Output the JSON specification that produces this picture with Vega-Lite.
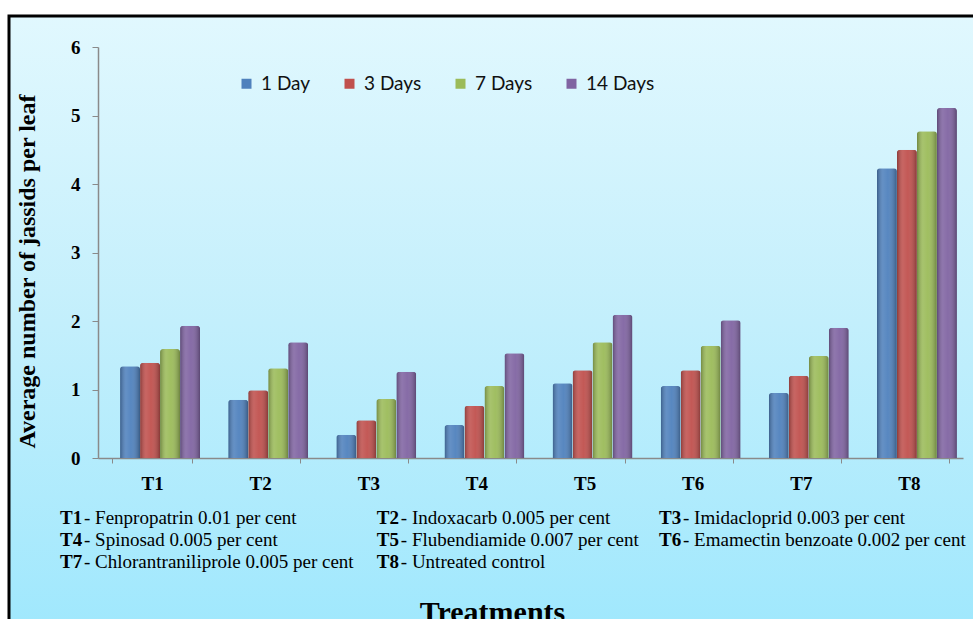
{
  "$schema": "https://vega.github.io/schema/vega-lite/v6.json",
  "autosize": {"type": "none"},
  "padding": {"left": 9, "top": 16, "right": 0, "bottom": 0},
  "width": 975,
  "height": 612,
  "background": "white",
  "config": {
    "view": {
      "stroke": "#000000",
      "strokeWidth": 3,
      "fill": {"gradient": "linear", "x1": 0, "y1": 0, "x2": 0, "y2": 1,
        "stops": [{"offset": 0, "color": "#e1f8fe"}, {"offset": 0.5, "color": "#c3effc"}, {"offset": 1, "color": "#a0e8fd"}]}
    }
  },
  "datasets": {
    "bars": [
      {"Treatment": "T1", "Period": "1 Day", "Value": 1.34},
      {"Treatment": "T1", "Period": "3 Days", "Value": 1.39},
      {"Treatment": "T1", "Period": "7 Days", "Value": 1.59},
      {"Treatment": "T1", "Period": "14 Days", "Value": 1.93},
      {"Treatment": "T2", "Period": "1 Day", "Value": 0.85},
      {"Treatment": "T2", "Period": "3 Days", "Value": 0.99},
      {"Treatment": "T2", "Period": "7 Days", "Value": 1.31},
      {"Treatment": "T2", "Period": "14 Days", "Value": 1.69},
      {"Treatment": "T3", "Period": "1 Day", "Value": 0.34},
      {"Treatment": "T3", "Period": "3 Days", "Value": 0.55},
      {"Treatment": "T3", "Period": "7 Days", "Value": 0.86},
      {"Treatment": "T3", "Period": "14 Days", "Value": 1.26},
      {"Treatment": "T4", "Period": "1 Day", "Value": 0.48},
      {"Treatment": "T4", "Period": "3 Days", "Value": 0.76},
      {"Treatment": "T4", "Period": "7 Days", "Value": 1.05},
      {"Treatment": "T4", "Period": "14 Days", "Value": 1.53},
      {"Treatment": "T5", "Period": "1 Day", "Value": 1.09},
      {"Treatment": "T5", "Period": "3 Days", "Value": 1.28},
      {"Treatment": "T5", "Period": "7 Days", "Value": 1.69},
      {"Treatment": "T5", "Period": "14 Days", "Value": 2.09},
      {"Treatment": "T6", "Period": "1 Day", "Value": 1.05},
      {"Treatment": "T6", "Period": "3 Days", "Value": 1.28},
      {"Treatment": "T6", "Period": "7 Days", "Value": 1.64},
      {"Treatment": "T6", "Period": "14 Days", "Value": 2.01},
      {"Treatment": "T7", "Period": "1 Day", "Value": 0.95},
      {"Treatment": "T7", "Period": "3 Days", "Value": 1.20},
      {"Treatment": "T7", "Period": "7 Days", "Value": 1.49},
      {"Treatment": "T7", "Period": "14 Days", "Value": 1.90},
      {"Treatment": "T8", "Period": "1 Day", "Value": 4.23},
      {"Treatment": "T8", "Period": "3 Days", "Value": 4.50},
      {"Treatment": "T8", "Period": "7 Days", "Value": 4.77},
      {"Treatment": "T8", "Period": "14 Days", "Value": 5.11}
    ],
    "notes": [
      {"code": "T1", "desc": "- Fenpropatrin 0.01 per cent", "line": 1, "col": 1},
      {"code": "T2", "desc": "- Indoxacarb 0.005 per cent", "line": 1, "col": 2},
      {"code": "T3", "desc": "- Imidacloprid 0.003 per cent", "line": 1, "col": 3},
      {"code": "T4", "desc": "- Spinosad 0.005 per cent", "line": 2, "col": 1},
      {"code": "T5", "desc": "- Flubendiamide 0.007 per cent", "line": 2, "col": 2},
      {"code": "T6", "desc": "- Emamectin benzoate 0.002 per cent", "line": 2, "col": 3},
      {"code": "T7", "desc": "- Chlorantraniliprole 0.005 per cent", "line": 3, "col": 1},
      {"code": "T8", "desc": "- Untreated control", "line": 3, "col": 2}
    ]
  },
  "layer": [
    {
      "data": {"name": "bars"},
      "encoding": {
        "x": {
          "field": "Treatment", "type": "nominal", "sort": null,
          "scale": {"range": [89, 954], "paddingInner": 0.26, "paddingOuter": 0.13},
          "axis": {
            "orient": "bottom", "offset": -170, "labelAngle": 0,
            "domainColor": "#8a8a8a", "domainWidth": 1.5, "tickColor": "#8a8a8a", "tickSize": 5, "tickBand": "extent",
            "labelFont": "Liberation Serif", "labelFontWeight": "bold", "labelFontSize": 19, "labelColor": "#000000", "labelPadding": 11,
            "title": "Treatments", "titleFont": "Liberation Serif", "titleFontWeight": "bold", "titleFontSize": 30, "titleColor": "#000000",
            "titleX": 483, "titleY": 163, "titleBaseline": "alphabetic", "titleAlign": "center"
          }
        },
        "xOffset": {"field": "Period", "type": "nominal", "sort": ["1 Day", "3 Days", "7 Days", "14 Days"], "scale": {"range": [8, 88], "paddingInner": 0, "paddingOuter": 0}},
        "y": {
          "field": "Value", "type": "quantitative",
          "scale": {"domain": [0, 6], "range": [442, 31], "nice": false, "zero": true},
          "axis": {
            "orient": "left", "offset": -89, "values": [0, 1, 2, 3, 4, 5, 6], "grid": false,
            "domainColor": "#8a8a8a", "domainWidth": 1.5, "tickColor": "#8a8a8a", "tickSize": 6,
            "labelFont": "Liberation Serif", "labelFontWeight": "bold", "labelFontSize": 19, "labelColor": "#000000", "labelPadding": 12,
            "title": "Average number of jassids per leaf", "titleFont": "Liberation Serif", "titleFontWeight": "bold", "titleFontSize": 24, "titleColor": "#000000",
            "titleAngle": -90, "titleX": -71, "titleY": 255, "titleAlign": "center", "titleBaseline": "middle"
          }
        }
      },
      "layer": [
        {
          "mark": {"type": "bar", "cornerRadiusTopLeft": 3, "cornerRadiusTopRight": 3},
          "encoding": {
            "color": {
              "field": "Period", "type": "nominal",
              "scale": {"domain": ["1 Day", "3 Days", "7 Days", "14 Days"], "range": ["#4f81bd", "#c0504d", "#9bbb59", "#8064a2"]},
              "legend": {
                "title": null, "orient": "none", "direction": "horizontal", "legendX": 228, "legendY": 58,
                "symbolType": "square", "symbolSize": 100, "symbolStrokeWidth": 0,
                "labelFont": "Lato", "labelFontSize": 19, "labelColor": "#111111", "labelOffset": 5, "columnPadding": 29
              }
            }
          }
        },
        {
          "mark": {
            "type": "bar", "cornerRadiusTopLeft": 3, "cornerRadiusTopRight": 3,
            "fill": {"gradient": "linear", "x1": 0, "y1": 0, "x2": 1, "y2": 0,
              "stops": [
                {"offset": 0, "color": "rgba(0,0,0,0.28)"},
                {"offset": 0.3, "color": "rgba(255,255,255,0.12)"},
                {"offset": 0.55, "color": "rgba(255,255,255,0.05)"},
                {"offset": 1, "color": "rgba(0,0,0,0.3)"}
              ]}
          }
        }
      ]
    },
    {
      "data": {"name": "notes"},
      "encoding": {
        "x": {"field": "col", "type": "quantitative", "scale": {"type": "pow", "exponent": 0.78, "domain": [1, 3], "range": [51, 650]}, "axis": null},
        "y": {"field": "line", "type": "quantitative", "scale": {"domain": [1, 3], "range": [502, 546], "zero": false}, "axis": null}
      },
      "layer": [
        {
          "mark": {"type": "text", "align": "left", "baseline": "middle", "font": "Liberation Serif", "fontWeight": "bold", "fontSize": 19, "color": "#000000"},
          "encoding": {"text": {"field": "code"}}
        },
        {
          "mark": {"type": "text", "align": "left", "baseline": "middle", "font": "Liberation Serif", "fontSize": 19, "color": "#000000", "dx": 24},
          "encoding": {"text": {"field": "desc"}}
        }
      ]
    }
  ],
  "resolve": {"scale": {"x": "independent", "y": "independent"}}
}
